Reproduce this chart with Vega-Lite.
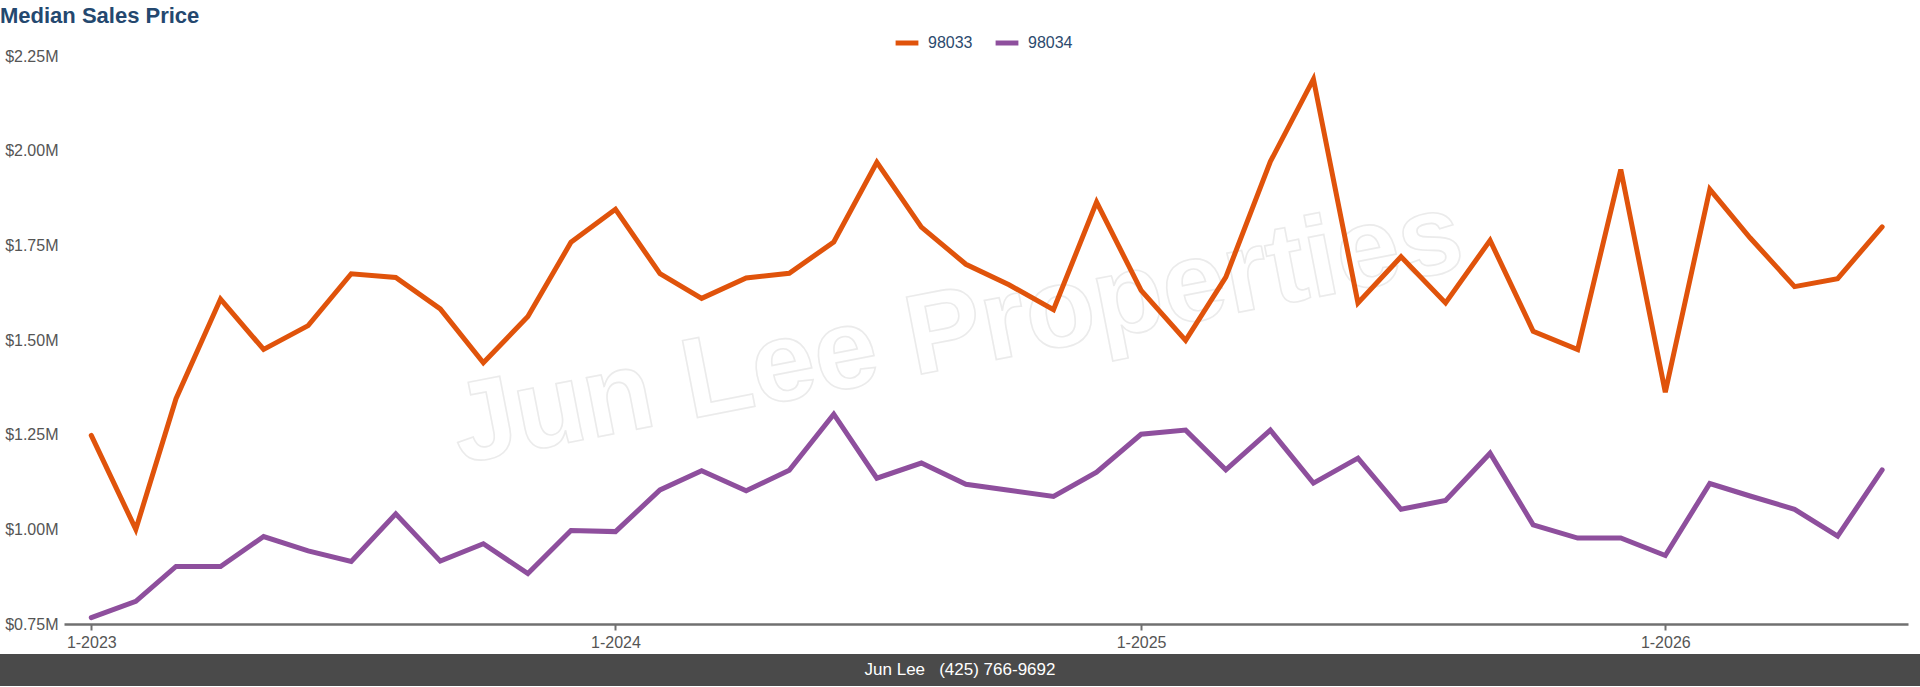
{
  "$schema": "https://vega.github.io/schema/vega-lite/v6.json",
  "background": "white",
  "padding": {"top": 5, "left": 0, "right": 0, "bottom": 0},
  "spacing": 4,
  "vconcat": [
    {
      "title": {"text": "Median Sales Price", "anchor": "start", "fontSize": 22, "fontWeight": "bold", "color": "#24486f", "offset": 20},
      "width": 1908,
      "height": 568,
      "data": {
        "values": [
          {"date": "2023-01-01", "zip": "98033", "price": 1248000},
          {"date": "2023-02-01", "zip": "98033", "price": 1000000},
          {"date": "2023-03-01", "zip": "98033", "price": 1345000},
          {"date": "2023-04-01", "zip": "98033", "price": 1608000},
          {"date": "2023-05-01", "zip": "98033", "price": 1475000},
          {"date": "2023-06-01", "zip": "98033", "price": 1538000},
          {"date": "2023-07-01", "zip": "98033", "price": 1675000},
          {"date": "2023-08-01", "zip": "98033", "price": 1665000},
          {"date": "2023-09-01", "zip": "98033", "price": 1582000},
          {"date": "2023-10-01", "zip": "98033", "price": 1440000},
          {"date": "2023-11-01", "zip": "98033", "price": 1562000},
          {"date": "2023-12-01", "zip": "98033", "price": 1758000},
          {"date": "2024-01-01", "zip": "98033", "price": 1845000},
          {"date": "2024-02-01", "zip": "98033", "price": 1675000},
          {"date": "2024-03-01", "zip": "98033", "price": 1610000},
          {"date": "2024-04-01", "zip": "98033", "price": 1664000},
          {"date": "2024-05-01", "zip": "98033", "price": 1676000},
          {"date": "2024-06-01", "zip": "98033", "price": 1759000},
          {"date": "2024-07-01", "zip": "98033", "price": 1969000},
          {"date": "2024-08-01", "zip": "98033", "price": 1798000},
          {"date": "2024-09-01", "zip": "98033", "price": 1700000},
          {"date": "2024-10-01", "zip": "98033", "price": 1646000},
          {"date": "2024-11-01", "zip": "98033", "price": 1580000},
          {"date": "2024-12-01", "zip": "98033", "price": 1864000},
          {"date": "2025-01-01", "zip": "98033", "price": 1631000},
          {"date": "2025-02-01", "zip": "98033", "price": 1499000},
          {"date": "2025-03-01", "zip": "98033", "price": 1666000},
          {"date": "2025-04-01", "zip": "98033", "price": 1971000},
          {"date": "2025-05-01", "zip": "98033", "price": 2189000},
          {"date": "2025-06-01", "zip": "98033", "price": 1598000},
          {"date": "2025-07-01", "zip": "98033", "price": 1720000},
          {"date": "2025-08-01", "zip": "98033", "price": 1598000},
          {"date": "2025-09-01", "zip": "98033", "price": 1763000},
          {"date": "2025-10-01", "zip": "98033", "price": 1523000},
          {"date": "2025-11-01", "zip": "98033", "price": 1475000},
          {"date": "2025-12-01", "zip": "98033", "price": 1950000},
          {"date": "2026-01-01", "zip": "98033", "price": 1362000},
          {"date": "2026-02-01", "zip": "98033", "price": 1898000},
          {"date": "2026-03-01", "zip": "98033", "price": 1770000},
          {"date": "2026-04-01", "zip": "98033", "price": 1641000},
          {"date": "2026-05-01", "zip": "98033", "price": 1662000},
          {"date": "2026-06-01", "zip": "98033", "price": 1799000},
          {"date": "2023-01-01", "zip": "98034", "price": 767000},
          {"date": "2023-02-01", "zip": "98034", "price": 810000},
          {"date": "2023-03-01", "zip": "98034", "price": 902000},
          {"date": "2023-04-01", "zip": "98034", "price": 902000},
          {"date": "2023-05-01", "zip": "98034", "price": 981000},
          {"date": "2023-06-01", "zip": "98034", "price": 943000},
          {"date": "2023-07-01", "zip": "98034", "price": 915000},
          {"date": "2023-08-01", "zip": "98034", "price": 1041000},
          {"date": "2023-09-01", "zip": "98034", "price": 916000},
          {"date": "2023-10-01", "zip": "98034", "price": 962000},
          {"date": "2023-11-01", "zip": "98034", "price": 883000},
          {"date": "2023-12-01", "zip": "98034", "price": 997000},
          {"date": "2024-01-01", "zip": "98034", "price": 994000},
          {"date": "2024-02-01", "zip": "98034", "price": 1104000},
          {"date": "2024-03-01", "zip": "98034", "price": 1155000},
          {"date": "2024-04-01", "zip": "98034", "price": 1102000},
          {"date": "2024-05-01", "zip": "98034", "price": 1156000},
          {"date": "2024-06-01", "zip": "98034", "price": 1304000},
          {"date": "2024-07-01", "zip": "98034", "price": 1135000},
          {"date": "2024-08-01", "zip": "98034", "price": 1175000},
          {"date": "2024-09-01", "zip": "98034", "price": 1119000},
          {"date": "2024-10-01", "zip": "98034", "price": 1103000},
          {"date": "2024-11-01", "zip": "98034", "price": 1087000},
          {"date": "2024-12-01", "zip": "98034", "price": 1151000},
          {"date": "2025-01-01", "zip": "98034", "price": 1251000},
          {"date": "2025-02-01", "zip": "98034", "price": 1262000},
          {"date": "2025-03-01", "zip": "98034", "price": 1157000},
          {"date": "2025-04-01", "zip": "98034", "price": 1262000},
          {"date": "2025-05-01", "zip": "98034", "price": 1122000},
          {"date": "2025-06-01", "zip": "98034", "price": 1188000},
          {"date": "2025-07-01", "zip": "98034", "price": 1053000},
          {"date": "2025-08-01", "zip": "98034", "price": 1076000},
          {"date": "2025-09-01", "zip": "98034", "price": 1201000},
          {"date": "2025-10-01", "zip": "98034", "price": 1012000},
          {"date": "2025-11-01", "zip": "98034", "price": 977000},
          {"date": "2025-12-01", "zip": "98034", "price": 977000},
          {"date": "2026-01-01", "zip": "98034", "price": 931000},
          {"date": "2026-02-01", "zip": "98034", "price": 1121000},
          {"date": "2026-03-01", "zip": "98034", "price": 1088000},
          {"date": "2026-04-01", "zip": "98034", "price": 1053000},
          {"date": "2026-05-01", "zip": "98034", "price": 982000},
          {"date": "2026-06-01", "zip": "98034", "price": 1157000}
        ]
      },
      "layer": [
        {
          "data": {"values": [{"label": "Jun Lee Properties"}]},
          "mark": {"type": "text", "angle": 349, "fontSize": 114, "fontWeight": "bold", "fill": "transparent", "stroke": "#ebebeb", "strokeWidth": 1.6},
          "encoding": {
            "text": {"field": "label"},
            "x": {"datum": {"year": 2024, "month": 8, "date": 26, "utc": true}, "type": "temporal"},
            "y": {"datum": 1520000, "type": "quantitative"}
          }
        },
        {
          "mark": {"type": "line", "strokeWidth": 5, "strokeCap": "round"},
          "encoding": {
            "x": {
              "field": "date",
              "type": "temporal",
              "scale": {"type": "utc", "rangeMin": 64, "domain": [{"year": 2022, "month": 12, "date": 13, "utc": true}, {"year": 2026, "month": 6, "date": 19, "utc": true}]},
              "axis": {
                "title": null,
                "values": [
                  {"year": 2023, "month": 1, "date": 1, "utc": true},
                  {"year": 2024, "month": 1, "date": 1, "utc": true},
                  {"year": 2025, "month": 1, "date": 1, "utc": true},
                  {"year": 2026, "month": 1, "date": 1, "utc": true}
                ],
                "format": "%-m-%Y",
                "grid": false,
                "domainColor": "#707070",
                "domainWidth": 2.5,
                "tickColor": "#707070",
                "tickWidth": 2,
                "tickSize": 6,
                "labelColor": "#555555",
                "labelFontSize": 16,
                "labelPadding": 4
              }
            },
            "y": {
              "field": "price",
              "type": "quantitative",
              "scale": {"domain": [750000, 2250000], "nice": false, "zero": false},
              "axis": {
                "title": null,
                "offset": -64,
                "values": [750000, 1000000, 1250000, 1500000, 1750000, 2000000, 2250000],
                "labelExpr": "'$' + format(datum.value / 1000000, '.2f') + 'M'",
                "domain": false,
                "ticks": false,
                "gridColor": "#bdbdbd",
                "gridWidth": 1.3,
                "labelColor": "#555555",
                "labelFontSize": 16,
                "labelPadding": 6
              }
            },
            "color": {
              "field": "zip",
              "type": "nominal",
              "scale": {"domain": ["98033", "98034"], "range": ["#e0530b", "#8e4f9d"]},
              "legend": {
                "title": null,
                "orient": "none",
                "legendX": 893,
                "legendY": -27,
                "direction": "horizontal",
                "symbolType": "stroke",
                "symbolSize": 520,
                "symbolStrokeWidth": 5,
                "labelColor": "#2c4a6e",
                "labelFontSize": 16,
                "labelOffset": 7,
                "columnPadding": 12
              }
            }
          }
        }
      ]
    },
    {
      "width": 1920,
      "height": 32,
      "view": {"fill": "#4a4a4a", "stroke": null},
      "data": {"values": [{"label": "Jun Lee\u00a0\u00a0\u00a0(425) 766-9692"}]},
      "mark": {"type": "text", "color": "#ffffff", "fontSize": 17},
      "encoding": {"text": {"field": "label"}}
    }
  ],
  "config": {
    "font": "Liberation Sans",
    "view": {"stroke": null}
  }
}
